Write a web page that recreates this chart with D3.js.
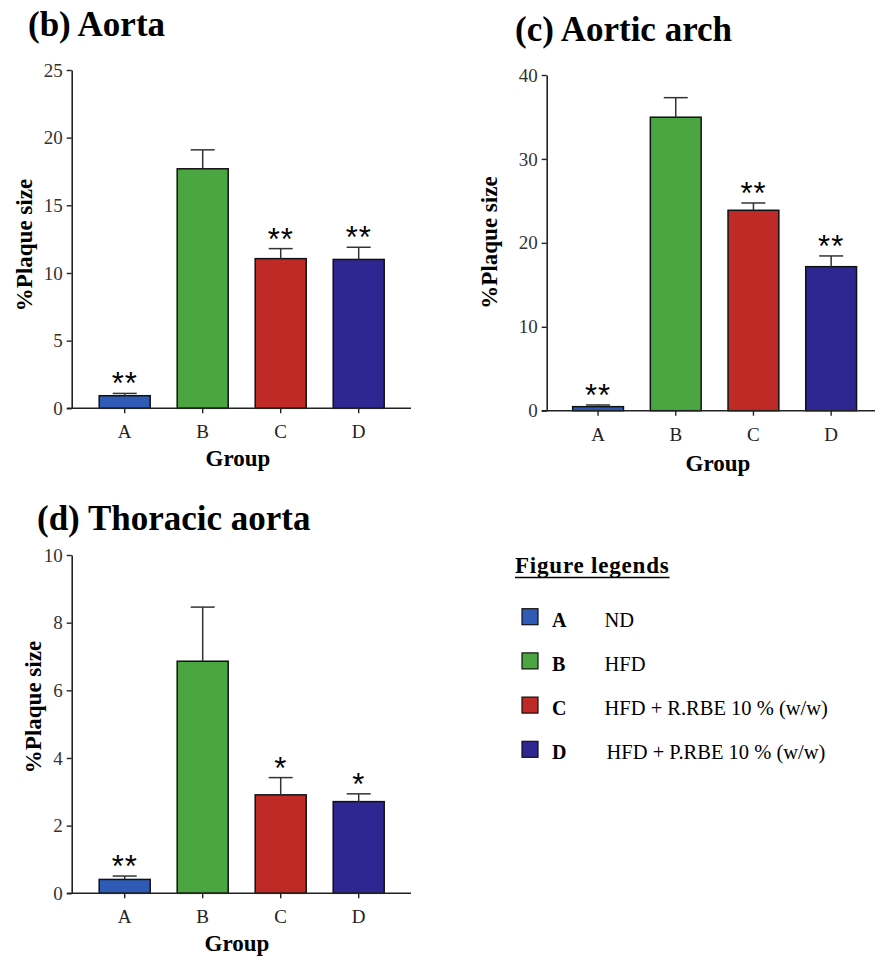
<!DOCTYPE html>
<html><head><meta charset="utf-8">
<script src="https://cdn.jsdelivr.net/npm/d3@7"></script>
<style>body{margin:0;background:#fff;} svg{display:block;}</style>
</head><body>
<svg id="chart" width="875" height="958"></svg>
<script>
// ---- data ----
const groups = ["A", "B", "C", "D"];
const groupColors = ["#2F5BB7", "#4BA541", "#C02A26", "#2F2791"];
const legendLabels = ["ND", "HFD", "HFD + R.RBE 10 % (w/w)", "HFD + P.RBE 10 % (w/w)"];

const aortaMean = [0.93, 17.7, 11.06, 11.0];
const aortaErr = [0.17, 1.4, 0.74, 0.9];
const aortaSig = ["**", "", "**", "**"];
const aortaTicks = [0, 5, 10, 15, 20, 25];

const archMean = [0.48, 34.97, 23.88, 17.16];
const archErr = [0.2, 2.33, 0.87, 1.28];
const archSig = ["**", "", "**", "**"];
const archTicks = [0, 10, 20, 30, 40];

const thoracicMean = [0.41, 6.86, 2.91, 2.71];
const thoracicErr = [0.1, 1.6, 0.51, 0.23];
const thoracicSig = ["**", "", "*", "*"];
const thoracicTicks = [0, 2, 4, 6, 8, 10];

// ---- drawing ----
const svg = d3.select("#chart");
const SERIF = "'Liberation Serif', 'Times New Roman', serif";
const SANS = "'Liberation Sans', Arial, sans-serif";

function panel(o) {
  const g = svg.append("g");
  const ymax = d3.max(o.ticks);
  const y = d3.scaleLinear().domain([0, ymax]).range([o.y0, o.y1]);
  const x = d3.scaleBand().domain(groups).range([o.bx0, o.bx1])
    .paddingInner(0.346).paddingOuter(0.173);

  // title
  g.append("text").attr("x", o.tx).attr("y", o.ty)
    .attr("font-family", SERIF).attr("font-weight", "bold")
    .attr("font-size", 35).attr("fill", "#000").text(o.title);

  // y axis
  const ya = g.append("g").attr("transform", `translate(${o.ax},0)`)
    .call(d3.axisLeft(y).tickValues(o.ticks).tickSize(5).tickSizeOuter(0).tickPadding(4));
  ya.attr("font-size", 19).attr("font-family", SERIF);
  ya.select(".domain").attr("stroke", "#222").attr("stroke-width", 1.6);
  ya.selectAll(".tick line").attr("stroke", "#222").attr("stroke-width", 1.4);
  ya.selectAll(".tick text").style("font-size", "19px").style("font-family", SERIF)
    .attr("fill", "#333");

  // y label
  g.append("text")
    .attr("transform", `translate(${o.ylx},${o.yly}) rotate(-90)`)
    .attr("text-anchor", "middle").attr("dominant-baseline", "central")
    .attr("font-family", SERIF).attr("font-weight", "bold").attr("font-size", 23)
    .text("%Plaque size");

  // bars
  const rows = groups.map((k, i) => ({ k, i, m: o.mean[i], e: o.err[i], s: o.sig[i] }));
  g.selectAll("rect.bar").data(rows).join("rect").attr("class", "bar")
    .attr("x", d => x(d.k)).attr("width", x.bandwidth())
    .attr("y", d => y(d.m)).attr("height", d => y(0) - y(d.m))
    .attr("fill", d => groupColors[d.i]).attr("stroke", "#111").attr("stroke-width", 1.5);

  // error bars (upper)
  const cx = d => x(d.k) + x.bandwidth() / 2;
  g.selectAll("line.err").data(rows).join("line").attr("class", "err")
    .attr("x1", cx).attr("x2", cx)
    .attr("y1", d => y(d.m)).attr("y2", d => y(d.m + d.e))
    .attr("stroke", "#333").attr("stroke-width", 1.5);
  g.selectAll("line.cap").data(rows).join("line").attr("class", "cap")
    .attr("x1", d => cx(d) - 12).attr("x2", d => cx(d) + 12)
    .attr("y1", d => y(d.m + d.e)).attr("y2", d => y(d.m + d.e))
    .attr("stroke", "#333").attr("stroke-width", 1.5);

  // significance stars
  g.selectAll("text.sig").data(rows).join("text").attr("class", "sig")
    .attr("x", cx).attr("y", d => y(d.m + d.e) + 1)
    .attr("text-anchor", "middle").attr("font-family", SANS).attr("font-size", 31)
    .attr("letter-spacing", 1)
    .attr("fill", "#000").text(d => d.s);

  // x axis
  const xa = g.append("g").attr("transform", `translate(0,${y(0)})`)
    .call(d3.axisBottom(x).tickSize(5).tickSizeOuter(0).tickPadding(11.5));
  xa.attr("font-size", 19).attr("font-family", SERIF);
  xa.select(".domain").remove();
  xa.selectAll(".tick line").attr("stroke", "#222").attr("stroke-width", 1.4);
  xa.selectAll(".tick text").style("font-size", "19px").style("font-family", SERIF)
    .attr("fill", "#222");
  g.append("line").attr("x1", o.xl0).attr("x2", o.xl1)
    .attr("y1", y(0)).attr("y2", y(0))
    .attr("stroke", "#222").attr("stroke-width", 1.6);

  // x label
  g.append("text").attr("x", o.gx).attr("y", o.gy).attr("text-anchor", "middle")
    .attr("font-family", SERIF).attr("font-weight", "bold").attr("font-size", 23)
    .text("Group");
}

panel({ title: "(b) Aorta", mean: aortaMean, err: aortaErr, sig: aortaSig, ticks: aortaTicks,
  tx: 28, ty: 36, ax: 71.7, y0: 408.3, y1: 70, bx0: 85.7, bx1: 397.7, xl0: 67, xl1: 411,
  ylx: 24, yly: 245, gx: 238, gy: 466 });

panel({ title: "(c) Aortic arch", mean: archMean, err: archErr, sig: archSig, ticks: archTicks,
  tx: 515, ty: 41, ax: 546.7, y0: 410.7, y1: 75, bx0: 559.2, bx1: 870, xl0: 541.7, xl1: 875,
  ylx: 489, yly: 242.5, gx: 718, gy: 471 });

panel({ title: "(d) Thoracic aorta", mean: thoracicMean, err: thoracicErr, sig: thoracicSig, ticks: thoracicTicks,
  tx: 37, ty: 530, ax: 71.7, y0: 893.3, y1: 555, bx0: 85.7, bx1: 397.7, xl0: 67, xl1: 411,
  ylx: 33, yly: 707, gx: 237, gy: 951 });

// ---- legend ----
const lg = svg.append("g");
const lt = lg.append("text").attr("x", 515).attr("y", 573.3)
  .attr("font-family", SERIF).attr("font-weight", "bold").attr("font-size", 23)
  .attr("letter-spacing", 0.8)
  .attr("fill", "#000").text("Figure legends");
const ltw = lt.node().getComputedTextLength();
lg.append("line").attr("x1", 515).attr("x2", 515 + ltw).attr("y1", 577.5).attr("y2", 577.5)
  .attr("stroke", "#000").attr("stroke-width", 1.6);

const rowY = d3.scalePoint().domain(groups).range([626.7, 759.3]);
const items = lg.selectAll("g.item").data(groups.map((k, i) => ({ k, i })))
  .join("g").attr("class", "item")
  .attr("transform", d => `translate(0,${rowY(d.k)})`);
items.append("rect").attr("x", 522).attr("y", -18).attr("width", 16).attr("height", 16)
  .attr("fill", d => groupColors[d.i]).attr("stroke", "#111").attr("stroke-width", 1.2);
items.append("text").attr("x", 552).attr("y", 0)
  .attr("font-family", SERIF).attr("font-weight", "bold").attr("font-size", 20)
  .text(d => d.k);
items.append("text").attr("x", d => d.i === 3 ? 606.5 : 604.5).attr("y", 0)
  .attr("font-family", SERIF).attr("font-size", 20.5)
  .text(d => legendLabels[d.i]);
</script>
</body></html>
